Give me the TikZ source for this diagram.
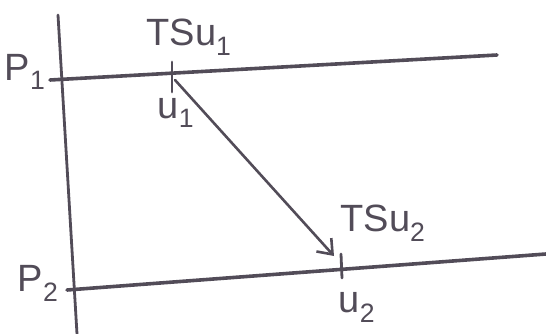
\documentclass[tikz,border=0pt]{standalone}
\usepackage{fontspec}
\setmainfont{Liberation Sans}
\usetikzlibrary{arrows.meta}
\definecolor{ink}{RGB}{82,76,88}
\begin{document}
\begin{tikzpicture}[x=1pt,y=1pt,
  lbl/.style={text=ink,font=\fontsize{38}{40}\selectfont,inner sep=0pt},
  timeline/.style={draw=ink,line width=3.6pt,line cap=round},
  axisline/.style={draw=ink,line width=2.8pt,line cap=round},
  tickmark/.style={draw=ink,line width=2.8pt,line cap=round},
  msg/.style={draw=ink,line width=2.6pt,line cap=round,-{Straight Barb[length=13pt,width=20pt,line width=2.6pt]}}]
\useasboundingbox (0,0) rectangle (546,-334);
% axis
\coordinate (axtop) at (58,-15);
\coordinate (axbot) at (77,-334);
\draw[axisline] (axtop) -- (axbot);
% process lines
\coordinate (p1s) at (50,-80);
\coordinate (p1e) at (497,-55);
\coordinate (p2s) at (67,-290);
\coordinate (p2e) at (546,-254);
\draw[timeline] (p1s) -- (p1e);
\draw[timeline] (p2s) -- (p2e);
% ticks
\coordinate (t1a) at (172,-62);
\coordinate (t1b) at (172,-92);
\coordinate (t2a) at (341,-254);
\coordinate (t2b) at (342,-278);
\draw[tickmark] (t1a) -- (t1b);
\draw[tickmark] (t2a) -- (t2b);
% message
\coordinate (ms) at (175,-80);
\coordinate (me) at (334,-256);
\draw[msg] (ms) -- (me);
% labels
\node[lbl] (P1) at (25,-72) {P\textsubscript{1}};
\node[lbl] (P2) at (38,-283) {P\textsubscript{2}};
\node[lbl] (TS1) at (189,-37) {TSu\textsubscript{1}};
\node[lbl] (U1) at (176,-113) {u\textsubscript{1}};
\node[lbl] (TS2) at (383,-223) {TSu\textsubscript{2}};
\node[lbl] (U2) at (357,-307) {u\textsubscript{2}};
\end{tikzpicture}
\end{document}
